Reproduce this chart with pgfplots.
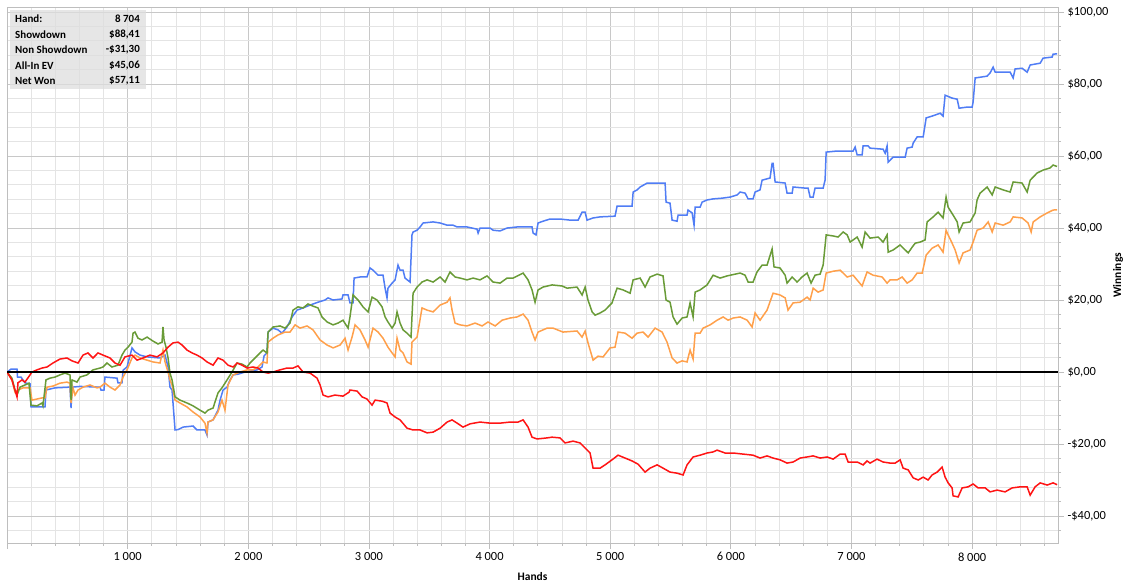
\documentclass[border=0pt]{standalone}
\usepackage{fontspec}
\setmainfont{Carlito}
\usepackage{pgfplots}
\pgfplotsset{compat=1.18}
\definecolor{sdblue}{RGB}{80,125,245}
\definecolor{nwgreen}{RGB}{105,155,55}
\definecolor{evorange}{RGB}{255,160,75}
\definecolor{nsdred}{RGB}{255,20,20}
\definecolor{majgrid}{RGB}{200,200,200}
\definecolor{mingrid}{RGB}{228,228,228}
\definecolor{axgray}{RGB}{190,190,190}
\definecolor{boxgray}{RGB}{222,222,222}
\begin{document}
\begin{tikzpicture}
\useasboundingbox (0,0) rectangle (1135bp,582bp);
\begin{axis}[
  at={(7bp,39bp)}, anchor=south west,
  scale only axis, width=1051bp, height=535.6bp,
  xmin=0, xmax=8712, ymin=-47.5, ymax=101.3,
  xtick={0,1000,2000,3000,4000,5000,6000,7000,8000},
  xticklabels={,1 000,2 000,3 000,4 000,5 000,6 000,7 000,8 000},
  minor xtick={200,400,600,800,1200,1400,1600,1800,2200,2400,2600,2800,3200,3400,3600,3800,4200,4400,4600,4800,5200,5400,5600,5800,6200,6400,6600,6800,7200,7400,7600,7800,8200,8400,8600},
  ytick={-40,-20,0,20,40,60,80,100},
  yticklabels={-\$40{,}00,-\$20{,}00,\$0{,}00,\$20{,}00,\$40{,}00,\$60{,}00,\$80{,}00,\$100{,}00},
  minor ytick={-44,-36,-32,-28,-24,-16,-12,-8,-4,4,8,12,16,24,28,32,36,44,48,52,56,64,68,72,76,84,88,92,96},
  grid=both,
  major grid style={draw=majgrid, line width=0.8bp},
  minor grid style={draw=mingrid, line width=0.8bp},
  axis line style={draw=axgray, line width=0.9bp},
  tick style={draw=axgray, line width=0.8bp},
  tick align=outside,
  major tick length=6bp, minor tick length=3bp,
  xtick pos=bottom, ytick pos=right, yticklabel pos=right,
  ticklabel style={font=\fontsize{12.5}{14}\selectfont, text=black},
  xlabel={\textbf{Hands}},
  ylabel={\textbf{Winnings}},
  label style={font=\fontsize{11.5}{13}\selectfont},
  xlabel style={at={(axis description cs:0.5,0)}, anchor=center, yshift=-34bp},
  ylabel style={at={(axis description cs:1,0.5)}, anchor=center, yshift=-60bp},
  clip=true,
]
% Showdown (blue)
\addplot[sdblue, line width=1.5bp] coordinates {
(0,0) (33,0.8) (83,0.8) (87,-1.4) (116,-1.4) (149,-3) (191,-3.3) (199,-9.7) (315,-9.7) (323,-5)
(398,-4.4) (522,-4.2) (531,-10) (539,-4.2) (605,-4) (771,-4.2) (779,-5) (804,-5) (812,-1.4) (912,-1.7)
(920,-3) (953,-3) (962,0.5) (995,1.4) (1036,6.7) (1061,5.6) (1103,4.7) (1161,4.2) (1268,3.9) (1310,4.7)
(1335,1.4) (1351,-4.2) (1368,-5) (1393,-16.1) (1418,-16) (1459,-15.3) (1542,-15) (1575,-16.1) (1641,-16.1) (1658,-17.5)
(1666,-13.9) (1708,-13.3) (1749,-10.6) (1766,-7.8) (1791,-5) (1824,-4.2) (1849,-2.2) (1874,-0.8) (1915,-0.6) (1973,0)
(2073,0.6) (2114,1.4) (2131,4.5) (2155,5.3) (2164,11.1) (2205,12.2) (2247,11.7) (2280,10.8) (2321,12.5) (2363,15.3)
(2404,17.2) (2454,17.8) (2512,18.6) (2578,19.4) (2636,20) (2661,20.6) (2703,20) (2777,20.3) (2785,21.4) (2827,21.4)
(2843,19.2) (2868,19.2) (2877,26.1) (2926,26.4) (2984,26.4) (3009,28.9) (3034,28.3) (3076,26.9) (3117,26.9) (3134,23.3)
(3150,20.6) (3158,23.3) (3192,24.7) (3217,25.6) (3241,29.7) (3258,28.3) (3283,28.3) (3299,26.1) (3341,25) (3357,38.1)
(3366,38.9) (3399,39.4) (3424,40.3) (3449,41.4) (3532,41.7) (3590,41.4) (3648,40.8) (3697,40.8) (3731,40.3) (3813,40.3)
(3896,39.7) (3905,38.6) (3921,40) (4004,40) (4029,39.4) (4087,39.2) (4145,40) (4228,40.3) (4352,40.3) (4361,38.6)
(4385,38.1) (4402,41.4) (4443,41.9) (4501,42.5) (4584,42.5) (4667,42.2) (4734,42.2) (4767,44.4) (4792,44.4) (4808,42.2)
(4858,42.8) (4916,43.1) (5040,43.3) (5057,46.1) (5181,46.1) (5190,50) (5223,50.6) (5248,51.4) (5306,52.5) (5455,52.5)
(5463,47.2) (5496,46.9) (5513,42.2) (5554,41.9) (5563,43.6) (5637,43.6) (5645,45) (5679,44.2) (5695,40.8) (5704,45.8)
(5745,45.8) (5762,47.2) (5803,47.8) (5853,48.1) (5928,48.3) (5994,48.6) (6052,49.2) (6077,50) (6118,49.7) (6143,48.1)
(6184,48.1) (6201,50) (6242,50.6) (6259,53.3) (6325,53.9) (6342,58) (6350,58) (6367,52.8) (6450,52.5) (6466,49.7)
(6508,49.7) (6516,51.4) (6615,51.1) (6640,51.1) (6657,48.6) (6682,48.6) (6698,51.1) (6765,51.1) (6781,53.3) (6790,61.1)
(6881,61.4) (7013,61.4) (7030,62.5) (7047,60.3) (7088,60.3) (7096,62.8) (7138,62.8) (7154,62.2) (7262,61.9) (7279,60.8)
(7295,62.8) (7304,58.3) (7345,59.7) (7445,59.7) (7461,62.2) (7503,62.5) (7511,63.6) (7544,65.3) (7594,65.3) (7619,70.6)
(7668,71.1) (7735,71.9) (7759,71.1) (7776,76.9) (7834,76.1) (7876,75.8) (7892,73.3) (7958,73.6) (8000,73.6) (8008,75)
(8025,81.7) (8066,81.9) (8124,82.2) (8149,83.1) (8174,84.7) (8191,83.3) (8315,83.3) (8340,81.7) (8356,84.2) (8414,84.4)
(8456,83.3) (8481,85.3) (8564,85.8) (8588,87.2) (8663,87.5) (8671,88.3) (8704,88.41)
};
% All-in EV (orange)
\addplot[evorange, line width=1.5bp] coordinates {
(0,0) (41,-2.2) (66,-5.6) (91,-5) (133,-4.4) (191,-4.4) (207,-7.8) (249,-7.5) (290,-7.2) (315,-7.2)
(332,-4.2) (381,-3.9) (439,-3.1) (497,-2.8) (522,-3.1) (531,-8.6) (547,-4.4) (564,-6.4) (589,-5) (630,-4.2)
(688,-3.6) (746,-4.4) (771,-4.2) (812,-3.1) (854,-4.2) (895,-5) (937,-3.6) (962,-1.4) (995,0.6) (1036,3.9)
(1061,4.7) (1103,3.9) (1161,3.3) (1210,2.8) (1268,2.5) (1293,6.1) (1310,2.8) (1335,0) (1351,-2.2) (1368,-3.6)
(1393,-7.8) (1434,-8.6) (1492,-9.7) (1542,-11.1) (1600,-12.5) (1641,-14.2) (1658,-16.9) (1666,-13.9) (1708,-13.3) (1749,-11.1)
(1782,-7.8) (1807,-10.6) (1832,-3.6) (1874,-0.8) (1932,0) (1990,0.6) (2039,0.6) (2081,1.4) (2122,2.8) (2155,2.5)
(2164,8.3) (2205,9.4) (2247,10.3) (2305,11.1) (2346,11.1) (2388,13.1) (2429,12.2) (2487,12.8) (2537,11.7) (2595,8.9)
(2653,7.5) (2703,6.7) (2761,7.5) (2802,9.4) (2827,6.1) (2860,9.7) (2885,13.1) (2926,11.7) (2968,8.9) (2993,6.9)
(3034,12.2) (3076,11.1) (3117,9.4) (3158,6.9) (3192,5.3) (3217,4.2) (3233,9.4) (3258,6.1) (3283,5.3) (3316,2.8)
(3349,2.2) (3357,8.3) (3399,9.7) (3440,17.8) (3482,17.2) (3532,16.7) (3590,18.6) (3648,19.4) (3672,20.6) (3689,17.2)
(3714,13.6) (3755,13.1) (3813,12.8) (3880,13.6) (3938,12.8) (3987,13.9) (4046,12.8) (4104,14.4) (4170,15) (4228,15.3)
(4278,16.1) (4319,14.4) (4352,11.1) (4377,8.9) (4402,11.1) (4477,12.2) (4526,12.2) (4609,11.1) (4725,11.4) (4767,9.7)
(4792,11.4) (4816,8.1) (4858,3.3) (4899,4.4) (4941,4.2) (4999,6.7) (5040,6.9) (5065,11.1) (5123,10.8) (5181,9.4)
(5223,10.8) (5272,11.1) (5314,9.7) (5372,12.2) (5430,11.1) (5471,8.3) (5513,3.9) (5554,2.5) (5596,3.1) (5637,2.8)
(5662,6.1) (5687,3.6) (5704,10.8) (5745,10.8) (5770,12.2) (5828,13.1) (5886,14.4) (5936,15.3) (5977,14.4) (6019,15)
(6077,15.3) (6135,14.4) (6176,12.5) (6201,16.4) (6242,14.4) (6300,17.2) (6350,21.9) (6408,21.4) (6450,20.6) (6474,17.2)
(6516,19.2) (6574,19.4) (6632,20.8) (6657,20) (6682,23.3) (6723,22.2) (6765,22.8) (6790,27.5) (6848,28) (6906,28.3)
(6964,26.4) (7013,26.9) (7088,23.9) (7129,27.8) (7179,26.9) (7254,26.4) (7295,24.7) (7320,25.6) (7378,25.6) (7420,26.4)
(7461,24.7) (7503,25.6) (7544,27.5) (7586,27.5) (7619,32.5) (7668,34.4) (7718,35.3) (7759,33.3) (7784,39.4) (7801,38.1)
(7834,35.8) (7859,33.9) (7892,30.3) (7925,33.1) (7983,33.9) (8008,36.1) (8041,39.4) (8091,40) (8133,41.7) (8166,38.9)
(8191,41.4) (8257,40.8) (8315,41.7) (8340,43.1) (8414,42.8) (8464,41.4) (8489,38.9) (8506,41.7) (8564,43.1) (8622,44.2)
(8671,45) (8704,45.06)
};
% Net Won (green)
\addplot[nwgreen, line width=1.5bp] coordinates {
(0,0) (41,-1.7) (66,-5) (83,-6.4) (108,-4.2) (149,-3.6) (182,-3.1) (199,-9.2) (249,-9.4) (290,-8.6)
(298,-9.4) (323,-2.2) (356,-1.7) (398,-1.4) (439,-0.8) (481,-0.3) (522,-0.8) (531,-7.8) (539,-2.2) (580,-2.8)
(605,-1.4) (663,-0.8) (713,0.6) (771,1.1) (796,1.4) (829,2.5) (870,1.4) (920,1.9) (953,4.7) (978,6.1)
(1003,6.9) (1036,8.3) (1045,10.8) (1061,11.1) (1086,9.4) (1119,8.9) (1161,9.7) (1210,8.6) (1252,7.8) (1285,8.3)
(1293,12.5) (1302,8.9) (1318,6.9) (1335,3.9) (1351,-0.3) (1368,-2.2) (1393,-6.9) (1434,-7.8) (1492,-8.6) (1542,-9.4)
(1600,-10.6) (1641,-11.4) (1666,-10.6) (1708,-10) (1749,-5.8) (1782,-4.4) (1824,-2.2) (1865,0) (1907,2.5) (1948,2.2)
(1990,1.4) (2014,2.5) (2056,3.9) (2097,5.3) (2122,6.1) (2155,5.3) (2164,11.1) (2205,12.5) (2263,12.8) (2305,12.2)
(2346,13.6) (2371,17.2) (2412,18.1) (2454,17.8) (2495,18.9) (2537,18.3) (2578,17.8) (2611,15.3) (2653,13.9) (2703,13.1)
(2744,13.6) (2785,14.4) (2827,12.2) (2843,15.3) (2868,21.4) (2910,20) (2951,18.1) (2993,16.7) (3026,20.8) (3067,20)
(3109,18.1) (3134,15.3) (3158,13.9) (3192,12.2) (3217,13.6) (3233,16.7) (3258,13.6) (3283,11.7) (3316,10.8) (3349,9.7)
(3366,21.9) (3399,23.6) (3440,25) (3482,25.6) (3532,25) (3590,26.4) (3631,25) (3672,27.8) (3714,26.4) (3755,26.1)
(3813,25.6) (3863,26.1) (3921,25.6) (3979,26.7) (4029,25) (4087,24.7) (4145,26.1) (4195,26.1) (4278,27.5) (4319,25.6)
(4352,22.8) (4377,19.4) (4402,22.8) (4443,23.6) (4518,24.2) (4601,23.9) (4642,23.3) (4725,23.6) (4767,21.4) (4792,23.6)
(4816,20) (4850,16.7) (4875,15.8) (4916,16.4) (4957,17.2) (5015,19.2) (5057,23.3) (5107,22.8) (5165,21.9) (5190,25.6)
(5248,26.1) (5289,23.6) (5330,26.4) (5389,27.2) (5438,26.7) (5463,20) (5496,19.4) (5521,15.3) (5554,13.3) (5596,15)
(5637,15.3) (5662,19.2) (5687,15.3) (5704,22.2) (5745,22.8) (5803,24.2) (5853,26.9) (5911,26.1) (5969,26.7) (6077,27.5)
(6118,26.9) (6143,25) (6184,25) (6217,27.8) (6259,29.7) (6300,29.7) (6342,34.2) (6358,29.2) (6408,28.9) (6450,26.9)
(6466,24.7) (6508,26.4) (6549,25) (6590,26.4) (6632,27.5) (6665,24.7) (6698,26.9) (6740,27.2) (6765,29.7) (6790,38.1)
(6848,37.8) (6889,37.5) (6931,38.9) (6964,38.1) (6989,36.1) (7047,37.5) (7088,34.7) (7113,38.9) (7154,37.2) (7221,37.5)
(7262,36.1) (7295,38.1) (7304,33.3) (7345,33.9) (7403,35.3) (7445,33.9) (7470,33.1) (7503,34.7) (7528,35.8) (7569,36.1)
(7610,36.7) (7627,41.7) (7677,43.1) (7718,44.4) (7759,42.8) (7784,48.6) (7801,45.8) (7842,43.6) (7876,41.7) (7892,38.9)
(7925,41.4) (7983,41.7) (8025,44.2) (8041,47.8) (8066,49.7) (8124,51.4) (8166,49.2) (8191,51.4) (8257,50.6) (8315,50)
(8340,52.8) (8414,52.5) (8456,50) (8481,53.3) (8539,55.3) (8588,56.1) (8646,56.7) (8671,57.5) (8704,57.11)
};
% Non Showdown (red)
\addplot[nsdred, line width=1.5bp] coordinates {
(0,0) (41,-2.2) (83,-6.9) (91,-3) (124,-2.2) (149,-2.8) (191,-0.8) (207,0) (249,0.6) (290,1.1)
(332,1.4) (381,2.5) (439,3.6) (497,3.9) (539,3.1) (589,2.5) (630,4.7) (671,5.3) (713,3.9) (754,5.3)
(796,4.7) (854,3.9) (895,2.5) (937,1.9) (978,4.2) (1036,4.7) (1078,3.3) (1127,3.9) (1185,4.7) (1244,4.2)
(1293,5.3) (1335,6.9) (1376,8.1) (1418,8.3) (1451,7.5) (1492,6.1) (1534,5.3) (1575,4.7) (1617,3.9) (1658,2.8)
(1708,1.9) (1749,3.9) (1791,3.3) (1832,1.9) (1874,1.4) (1907,2.5) (1948,1.9) (1990,1.1) (2039,1.4) (2081,1.1)
(2122,0) (2164,-0.3) (2205,0) (2263,0.6) (2321,1.1) (2371,1.1) (2412,1.7) (2454,0) (2512,-0.3) (2570,-1.7)
(2595,-3.6) (2620,-6.4) (2661,-6.9) (2719,-6.4) (2785,-6.7) (2835,-5.6) (2843,-5) (2902,-5.3) (2943,-6.9) (2984,-7.5)
(3026,-9.2) (3051,-7.8) (3109,-8.1) (3150,-8.6) (3175,-11.4) (3217,-12.5) (3258,-13.3) (3316,-15.6) (3366,-16.1) (3424,-16.1)
(3482,-16.9) (3532,-16.7) (3590,-15.6) (3648,-13.9) (3689,-13.3) (3731,-14.2) (3780,-15.3) (3838,-14.4) (3921,-13.9) (4004,-14.2)
(4087,-14.2) (4170,-13.9) (4236,-13.9) (4278,-13.3) (4319,-15.3) (4352,-18.1) (4394,-18.6) (4477,-18.3) (4518,-18.1) (4584,-18.3)
(4626,-19.7) (4692,-19.2) (4750,-19.7) (4792,-21.1) (4833,-22.5) (4858,-26.7) (4916,-26.7) (4957,-25.8) (5015,-24.4) (5065,-23.1)
(5123,-23.9) (5181,-24.7) (5231,-25.6) (5289,-27.8) (5330,-26.7) (5389,-25.8) (5438,-26.7) (5496,-27.8) (5554,-28.1) (5604,-28.6)
(5637,-25.8) (5687,-23.6) (5745,-23.1) (5803,-22.5) (5853,-22.2) (5886,-21.7) (5952,-22.5) (6019,-22.5) (6101,-22.8) (6184,-23.1)
(6242,-23.9) (6300,-23.3) (6350,-23.9) (6408,-24.4) (6466,-25.3) (6516,-25) (6574,-23.9) (6632,-23.6) (6682,-23.3) (6740,-23.9)
(6798,-23.6) (6848,-24.2) (6906,-22.8) (6947,-22.8) (6972,-25) (7047,-25) (7096,-25.8) (7129,-24.7) (7154,-25.3) (7212,-24.2)
(7262,-25) (7320,-25.3) (7362,-25.3) (7403,-24.4) (7428,-26.7) (7470,-27.2) (7511,-29.4) (7553,-30) (7594,-29.2) (7635,-30)
(7668,-28.6) (7710,-27.8) (7751,-26.4) (7776,-29.2) (7801,-30.8) (7834,-32.2) (7842,-34.4) (7884,-34.7) (7917,-32.2) (7967,-31.9)
(8008,-31.1) (8050,-32.2) (8108,-32.2) (8149,-33.3) (8207,-32.8) (8273,-33.3) (8331,-32.2) (8398,-31.9) (8456,-31.9) (8481,-34.2)
(8522,-31.9) (8564,-30.8) (8622,-31.4) (8671,-30.8) (8704,-31.3)
};
% zero line
\addplot[black, line width=2.2bp] coordinates {(0,0) (8712,0)};
\end{axis}
% info box
\fill[boxgray, fill opacity=0.75] (10bp,493bp) rectangle (146bp,572bp);
\begin{scope}[font=\fontsize{11}{13}\selectfont\bfseries]
\node[anchor=west, inner sep=0pt] at (15bp,563bp) {Hand:};
\node[anchor=west, inner sep=0pt] at (15bp,547.5bp) {Showdown};
\node[anchor=west, inner sep=0pt] at (15bp,532bp) {Non Showdown};
\node[anchor=west, inner sep=0pt] at (15bp,516.5bp) {All-In EV};
\node[anchor=west, inner sep=0pt] at (15bp,501bp) {Net Won};
\node[anchor=east, inner sep=0pt] at (140bp,563bp) {8 704};
\node[anchor=east, inner sep=0pt] at (140bp,547.5bp) {\$88,41};
\node[anchor=east, inner sep=0pt] at (140bp,532bp) {-\$31,30};
\node[anchor=east, inner sep=0pt] at (140bp,516.5bp) {\$45,06};
\node[anchor=east, inner sep=0pt] at (140bp,501bp) {\$57,11};
\end{scope}
\end{tikzpicture}
\end{document}
